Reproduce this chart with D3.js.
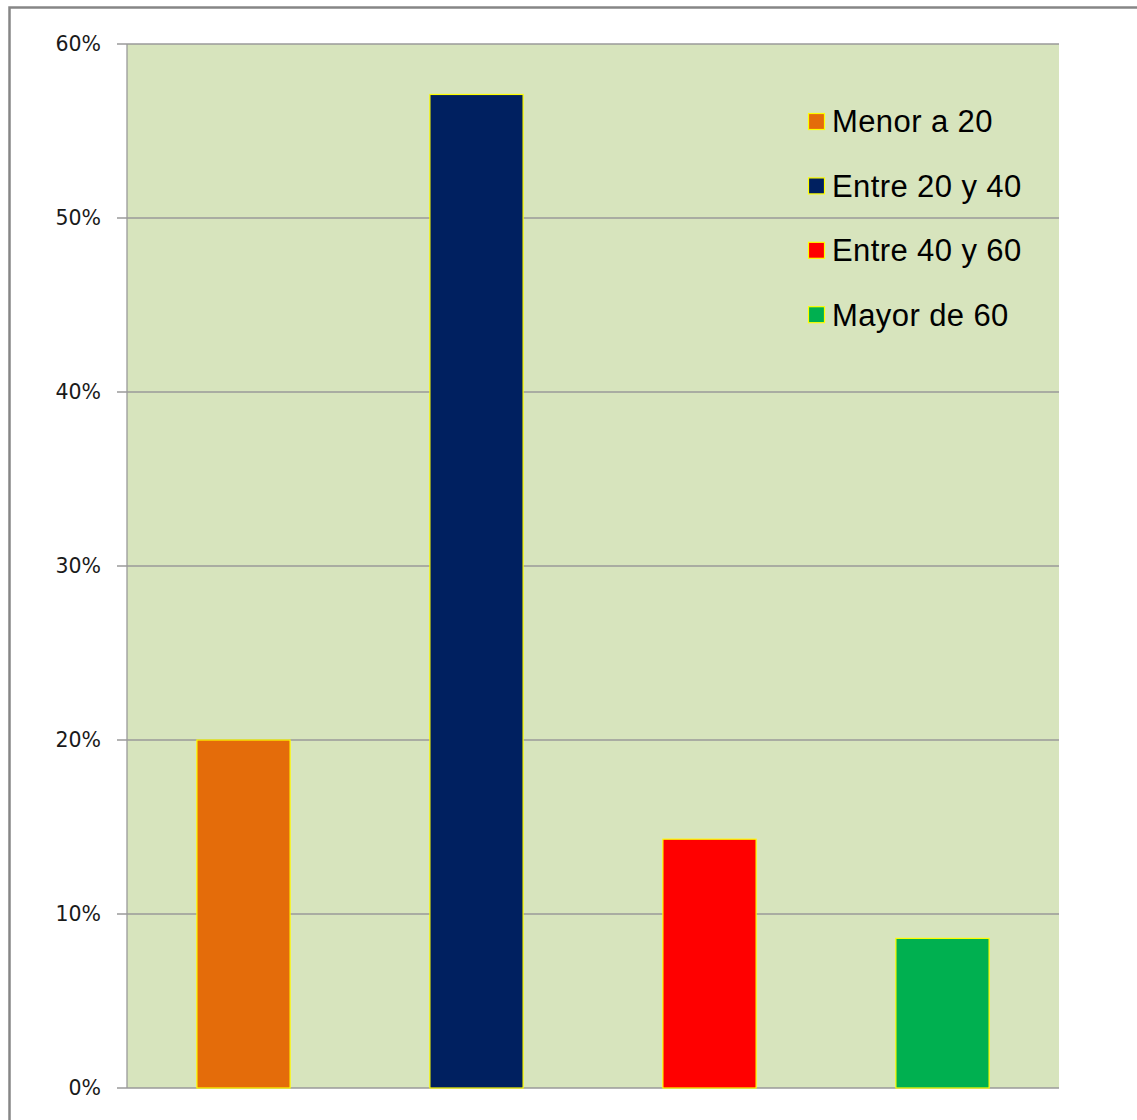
<!DOCTYPE html>
<html><head><meta charset="utf-8">
<script src="https://cdn.jsdelivr.net/npm/d3@7"></script>
<style>body{margin:0;background:#fff;}svg{display:block;}</style>
</head><body>
<script>
const categories = ["Menor a 20", "Entre 20 y 40", "Entre 40 y 60", "Mayor de 60"];
const values = [0.20, 0.571, 0.143, 0.086];
const colors = ["#E46C0A", "#002060", "#FF0000", "#00B050"];
const yTicks = [0, 0.1, 0.2, 0.3, 0.4, 0.5, 0.6];

(function () {
const W = 1137, H = 1120;
const svg = d3.select("body").append("svg").attr("width", W).attr("height", H);
svg.append("rect").attr("x", 9.5).attr("y", 7.5).attr("width", W + 10).attr("height", H + 10)
  .attr("fill", "#fff").attr("stroke", "#868686").attr("stroke-width", 2.5);

const pL = 127, pR = 1059, pT = 44, pB = 1088;
const x = d3.scaleBand().domain(categories).range([pL, pR]).paddingInner(0.6).paddingOuter(0.3);
const y = d3.scaleLinear().domain([0, 0.6]).range([pB, pT]);

svg.append("rect").attr("x", pL).attr("y", pT).attr("width", pR - pL).attr("height", pB - pT).attr("fill", "#D7E4BD");

svg.append("g").selectAll("line").data(yTicks).join("line")
  .attr("x1", pL - 10).attr("x2", pR).attr("y1", d => y(d)).attr("y2", d => y(d))
  .attr("stroke", "#9a9a9a").attr("stroke-width", 1.3);
svg.append("line").attr("x1", pL).attr("x2", pL).attr("y1", pT).attr("y2", pB).attr("stroke", "#9a9a9a").attr("stroke-width", 1.3);

svg.append("g").selectAll("text").data(yTicks).join("text")
  .attr("x", 101).attr("y", d => y(d)).attr("dy", "0.36em").attr("text-anchor", "end")
  .attr("font-family", "DejaVu Sans, sans-serif").attr("font-size", 20.5).attr("fill", "#1a1a1a")
  .text(d => d3.format(".0%")(d));

svg.append("g").selectAll("rect").data(values).join("rect")
  .attr("x", (d, i) => x(categories[i])).attr("width", x.bandwidth())
  .attr("y", d => y(d)).attr("height", d => pB - y(d))
  .attr("fill", (d, i) => colors[i]).attr("stroke", "#FFFF00").attr("stroke-width", 1.2);

const lg = svg.append("g").selectAll("g").data(categories).join("g")
  .attr("transform", (d, i) => `translate(808,${121.5 + i * 64.4})`);
lg.append("rect").attr("x", 0.5).attr("y", -8).attr("width", 16).attr("height", 16)
  .attr("fill", (d, i) => colors[i]).attr("stroke", "#FFFF00").attr("stroke-width", 1.2);
lg.append("text").attr("x", 24).attr("y", 0).attr("dy", "0.35em")
  .attr("font-family", "Liberation Sans, Arial, sans-serif").attr("font-size", 31)
  .attr("letter-spacing", 0.4).attr("fill", "#000")
  .text(d => d);
})();
</script>
</body></html>
